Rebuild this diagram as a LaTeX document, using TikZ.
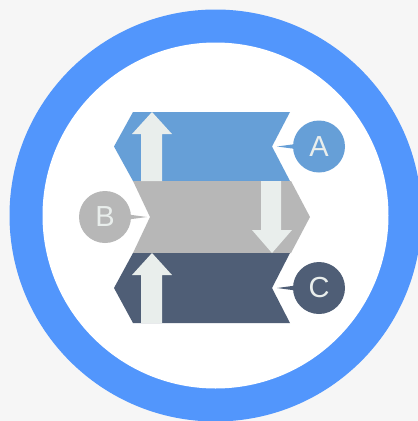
\documentclass[tikz,border=0pt]{standalone}
\usepackage{fontspec}
\setsansfont{Liberation Sans}
\usetikzlibrary{positioning}
\definecolor{ringblue}{HTML}{5296FC}
\definecolor{paper}{HTML}{F6F6F6}
\definecolor{bandA}{HTML}{669FD7}
\definecolor{bandB}{HTML}{B7B7B7}
\definecolor{bandC}{HTML}{4F5E76}
\definecolor{flowwhite}{HTML}{E9EEEC}

\begin{document}
\begin{tikzpicture}[x=1pt,y=-1pt,
  flow/.style={fill=flowwhite},
  badge/.style={circle,minimum size=52pt,inner sep=0pt,font=\sffamily\fontsize{29}{29}\selectfont,text=flowwhite},
  tail/.style={draw=none}
]
\useasboundingbox (0,0) rectangle (418,421);
\fill[paper] (0,0) rectangle (418,421);
% Ring
\fill[ringblue] (215.5,215.5) circle (206pt);
\fill[white] (215.5,215.5) circle (173pt);
% Bands
\fill[bandA] (133,112) -- (290,112) -- (272,146.5) -- (290,181) -- (133,181) -- (114,146.5) -- cycle;
\fill[bandB] (133,181) -- (291,181) -- (310,217) -- (291,253) -- (133,253) -- (150,217) -- cycle;
\fill[bandC] (133,253) -- (290,253) -- (272,288) -- (290,323) -- (133,323) -- (114,288) -- cycle;
% Arrows
\fill[flow] (141,181) -- (141,134) -- (132,134) -- (152,112) -- (172,134) -- (162,134) -- (162,181) -- cycle;
\fill[flow] (261,181) -- (261,230) -- (252,230) -- (272,253) -- (292,230) -- (281,230) -- (281,181) -- cycle;
\fill[flow] (141,323) -- (141,275) -- (132,275) -- (152,253) -- (172,275) -- (162,275) -- (162,323) -- cycle;
% Badges
\coordinate (na) at (277,146.5);
\coordinate (nb) at (147,217);
\coordinate (nc) at (277,288);
\node[badge,fill=bandA] (ca) at (319,146.5) {A};
\node[badge,fill=bandB] (cb) at (105,217) {B};
\node[badge,fill=bandC] (cc) at (319,288) {C};
\fill[bandA,tail] ([xshift=3pt,yshift=2.5pt]ca.west) -- (na) -- ([xshift=3pt,yshift=-2.5pt]ca.west) -- cycle;
\fill[bandB,tail] ([xshift=-3pt,yshift=2.5pt]cb.east) -- (nb) -- ([xshift=-3pt,yshift=-2.5pt]cb.east) -- cycle;
\fill[bandC,tail] ([xshift=3pt,yshift=2.5pt]cc.west) -- (nc) -- ([xshift=3pt,yshift=-2.5pt]cc.west) -- cycle;
\end{tikzpicture}
\end{document}
